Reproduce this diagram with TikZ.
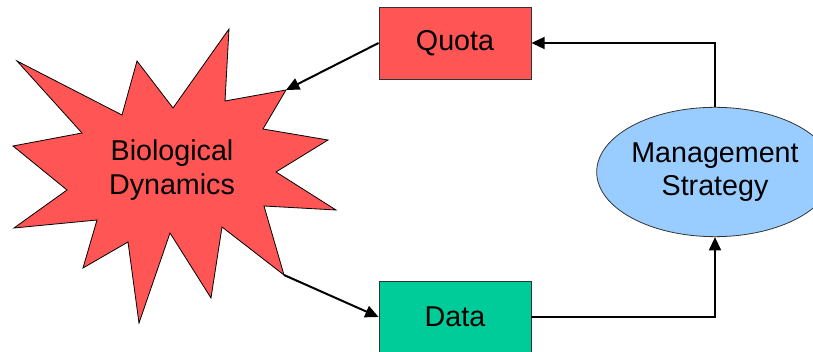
\documentclass[tikz,border=0pt]{standalone}
\usepackage{fontspec}
\setmainfont{Liberation Sans}
\usepackage{tikz}
\usetikzlibrary{shapes.geometric, arrows.meta, positioning}
\definecolor{quotared}{RGB}{255,85,85}
\definecolor{datagreen}{RGB}{0,204,153}
\definecolor{mgmtblue}{RGB}{153,204,255}

\begin{document}
\begin{tikzpicture}[x=0.75pt,y=-0.75pt,
    box/.style={rectangle,draw=black!80,line width=0.6pt,minimum width=114pt,minimum height=54pt,inner sep=0pt,font=\fontsize{21.5}{25}\selectfont},
    conn/.style={-{Triangle[length=10pt,width=9pt]},line width=1.5pt,black}]
    \useasboundingbox (0,0) rectangle (813,352);

    % Stella centrale
    \draw[fill=quotared,line width=0.6pt] (229,29) -- (225,101) -- (286,90) -- (263,129) -- (328,140)
        -- (276,172) -- (336,210) -- (264,206) -- (284,275) -- (222,227) -- (211,298)
        -- (170,233) -- (139,323) -- (128,242) -- (83,268) -- (97,220) -- (14,228)
        -- (67,190) -- (13,146) -- (82,133) -- (17,61) -- (122,115) -- (137,61)
        -- (173,108) -- cycle;
    \node[align=center,font=\fontsize{21.5}{25}\selectfont] (bio) at (172,170) {Biological\\Dynamics};
    \coordinate (tipq) at (286,90);
    \coordinate (tipd) at (284,275);

    % Riquadri
    \node[box,fill=quotared] (quota) at (455,43) {Quota};
    \node[box,fill=datagreen] (data) at (455,317) {Data};

    % Strategia
    \node[ellipse,draw=black!80,fill=mgmtblue,line width=0.6pt,minimum width=168pt,minimum height=97pt,inner sep=0pt,align=center,font=\fontsize{21.5}{25}\selectfont] (mgmt) at (715,172) {Management\\Strategy};

    % Connessioni
    \draw[conn] (quota.west) -- (tipq);
    \draw[conn] (tipd) -- (data.west);
    \draw[conn] (data.east) -| (mgmt.south);
    \draw[conn] (mgmt.north) |- (quota.east);
\end{tikzpicture}
\end{document}
